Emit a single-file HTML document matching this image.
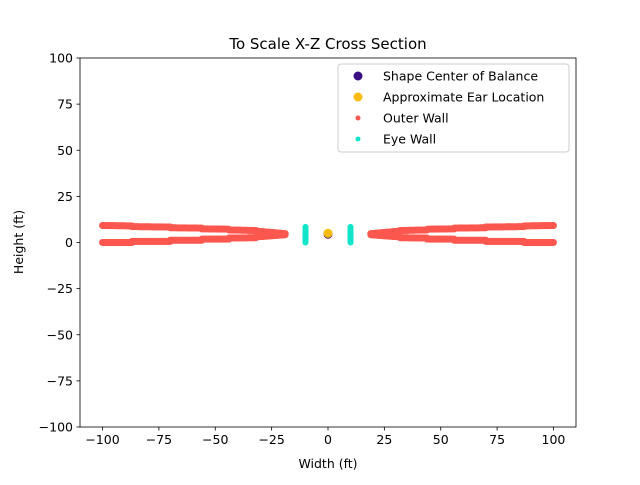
<!DOCTYPE html>
<html><head><meta charset="utf-8"><style>
body{margin:0;background:#fff;font-family:"Liberation Sans","DejaVu Sans",sans-serif}
</style></head><body>
<svg id="c" width="640" height="480" xmlns="http://www.w3.org/2000/svg" font-family="DejaVu Sans, Liberation Sans, sans-serif"></svg>
<script>
const xTicks=[-100,-75,-50,-25,0,25,50,75,100];
const yTicks=[-100,-75,-50,-25,0,25,50,75,100];
// outer wall segments (left side, mirrored to right): start x, end x, top y (start/end), bottom y (start/end)
const segStart=[-100,-87,-70,-56,-44,-32];
const segEnd=[-87,-70,-56,-44,-32,-19];
const segTopA=[9.2,8.6,8.0,7.4,6.8,6.2];
const segTopB=[9.0,8.4,7.8,7.2,6.5,4.8];
const segBotA=[0,0.6,1.2,1.8,2.4,3.0];
const segBotB=[0,0.6,1.2,1.8,2.6,4.2];
const eyeX=[-10,10];
const eyeY0=[0,0];
const eyeY1=[8.5,8.5];
const centerPt=[0,4.5];
const earPt=[0,5];
const NS="http://www.w3.org/2000/svg";
const svg=document.getElementById('c');
const L=80,R=576,T=58,B=427;
const sx=v=>L+(v+110)/220*(R-L);
const sy=v=>B-(v+100)/200*(B-T);
function el(t,a,p){const e=document.createElementNS(NS,t);for(const k in a)e.setAttribute(k,a[k]);(p||svg).appendChild(e);return e;}
const plot=el('g',{});


const wall=el('g',{fill:'#fc574e'},plot);


for(let i=0;i<segStart.length;i++){
  for(const s of [1,-1]){
    for(const [y0,y1] of [[segTopA[i],segTopB[i]],[segBotA[i],segBotB[i]]]){
      const a=s*segStart[i],b=s*segEnd[i];
      const n=Math.ceil(Math.abs(b-a)*2);
      for(let k=0;k<=n;k++){
        const xv=a+(b-a)*k/n;
        const yv=y0+(y1-y0)*k/n;
        const c=el('circle',{cx:sx(xv),cy:sy(yv),r:3.5},wall);
        
        
      }
    }
  }
}
const eye=el('g',{fill:'#12e6c8'},plot);


for(let i=0;i<eyeX.length;i++){
  for(let k=0;k<=20;k++){
    const yv=eyeY0[i]+(eyeY1[i]-eyeY0[i])*k/20;
    const c=el('circle',{cx:sx(eyeX[i]),cy:sy(yv),r:3},eye);
    
    
  }
}
const cb=el('circle',{cx:sx(centerPt[0]),cy:sy(centerPt[1]),r:4.5,fill:'#3b0f84'},plot);


const ear=el('circle',{cx:sx(earPt[0]),cy:sy(earPt[1]),r:4.5,fill:'#f8bd0c'},plot);


const frame=el('rect',{x:L,y:T,width:R-L,height:B-T,fill:'none',stroke:'#000','stroke-width':0.8});


for(const v of xTicks){
  el('line',{x1:sx(v),x2:sx(v),y1:B,y2:B+3.5,stroke:'#000','stroke-width':0.8});
  const t=el('text',{x:sx(v),y:B+17,'text-anchor':'middle','font-size':12.5});t.textContent=v<0?'\u2212'+(-v):v;
  
  
}
for(const v of yTicks){
  el('line',{x1:L-3.5,x2:L,y1:sy(v),y2:sy(v),stroke:'#000','stroke-width':0.8});
  const t=el('text',{x:L-7,y:sy(v)+4.5,'text-anchor':'end','font-size':12.5});t.textContent=v<0?'\u2212'+(-v):v;
  
  
}
const title=el('text',{x:328,y:49,'text-anchor':'middle','font-size':15});title.textContent='To Scale X-Z Cross Section';


const xl=el('text',{x:328,y:468,'text-anchor':'middle','font-size':12.5});xl.textContent='Width (ft)';


const yl=el('text',{x:0,y:0,'text-anchor':'middle','font-size':12.5,transform:'translate(23,242) rotate(-90)'});yl.textContent='Height (ft)';


const lg=el('g',{});


el('rect',{x:338,y:64,width:231,height:88,rx:3,fill:'#fff',stroke:'#ccc','stroke-width':1},lg);
const items=[['Shape Center of Balance','#3b0f84',4.5],['Approximate Ear Location','#f8bd0c',4.5],['Outer Wall','#fc574e',2.5],['Eye Wall','#12e6c8',2.5]];
items.forEach((it,i)=>{
  const y=76+i*21;
  const g=el('g',{},lg);
  
  
  el('circle',{cx:358,cy:y,r:it[2],fill:it[1]},g);
  const t=el('text',{x:383,y:y+4.5,'font-size':12.5},g);t.textContent=it[0];
});
</script>
</body></html>
